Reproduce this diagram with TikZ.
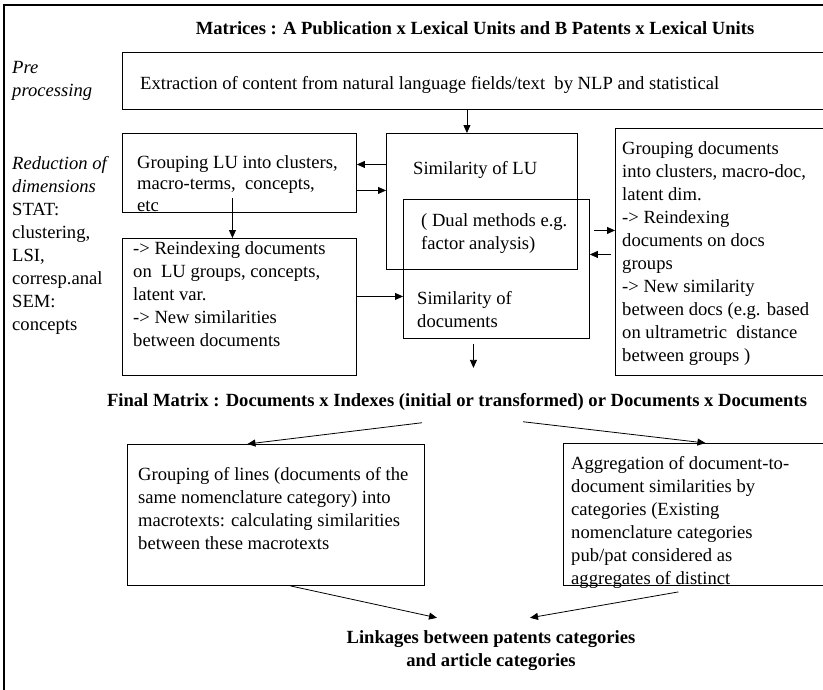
\documentclass[tikz,border=0pt]{standalone}
\usepackage{fontspec}
\setmainfont{Liberation Serif}
\usetikzlibrary{positioning, arrows.meta, calc}
\tikzset{
  box/.style={draw, line width=0.9pt, anchor=north west, inner sep=0pt},
  txt/.style={anchor=north west, inner sep=0pt, align=left, font=\fontsize{18.6}{23}\selectfont},
  ttl/.style={inner sep=0pt, align=center, font=\fontsize{18.6}{23}\selectfont\bfseries},
  arr/.style={-{Triangle[length=8pt,width=7pt]}, line width=0.8pt}
}

\begin{document}
\begin{tikzpicture}[x=1pt, y=-1pt]
\useasboundingbox (0,0) rectangle (823,689);
\draw[line width=1.6pt] (4,720) -- (4,5) -- (860,5);

% boxes
\node[box, minimum width=760pt, minimum height=57pt] (prep) at (122,52) {};
\node[box, minimum width=234pt, minimum height=79pt] (grpLU) at (122,133) {};
\node[box, minimum width=234pt, minimum height=137pt] (reidx) at (122,238) {};
\node[box, minimum width=191pt, minimum height=136pt] (simLU) at (386,133) {};
\node[box, minimum width=186pt, minimum height=139pt] (simDoc) at (403,199) {};
\node[box, minimum width=265pt, minimum height=247pt] (grpDoc) at (615,128) {};
\node[box, minimum width=297pt, minimum height=141pt] (grpLines) at (127,444) {};
\node[box, minimum width=317pt, minimum height=142pt] (aggr) at (563,443) {};

% texts
\node[ttl] (title) at (475,28) {Matrices : A Publication x Lexical Units and B Patents x Lexical Units};
\node[txt, font=\fontsize{18.6}{23}\selectfont\itshape] (preLbl) at (12,61) {Pre\\processing};
\node[txt] (redLbl) at (12,156) {\textit{Reduction of}\\\textit{dimensions}\\STAT:\\clustering,\\LSI,\\corresp.anal\\SEM:\\concepts};
\node[txt] (prepTxt) at (140,76) {Extraction of content from natural language fields/text\ \ by NLP and statistical};
\node[txt, font=\fontsize{18.6}{21.5}\selectfont] (grpLUTxt) at (137,155) {Grouping LU into clusters,\\macro-terms,\ \ concepts,\\etc};
\node[txt] (reidxTxt) at (133,241) {-> Reindexing documents\\on\ \ LU groups, concepts,\\latent var.\\-> New similarities\\between documents};
\node[txt] (simLUTxt) at (413,161) {Similarity of LU};
\node[txt] (dualTxt) at (421,213) {( Dual methods e.g.\\factor analysis)};
\node[txt] (simDocTxt) at (417,291) {Similarity of\\documents};
\node[txt] (grpDocTxt) at (622,141) {Grouping documents\\into clusters, macro-doc,\\latent dim.\\-> Reindexing\\documents on docs\\groups\\-> New similarity\\between docs (e.g. based\\on ultrametric\ \ distance\\between groups )};
\node[ttl] (final) at (457,402) {Final Matrix : Documents x Indexes (initial or transformed) or Documents x Documents};
\node[txt] (grpLinesTxt) at (138,467) {Grouping of lines (documents of the\\same nomenclature category) into\\macrotexts: calculating similarities\\between these macrotexts};
\node[txt] (aggrTxt) at (571,456) {Aggregation of document-to-\\document similarities by\\categories (Existing\\nomenclature categories\\pub/pat considered as\\aggregates of distinct};
\node[ttl] (link) at (491,651) {Linkages between patents categories\\and article categories};

% arrows
\draw[arr] ([xshift=-15pt]simLU.north |- prep.south) -- ([xshift=-15pt]simLU.north);
\draw[arr] ([yshift=8.5pt]grpLU.east -| simLU.west) -- ([yshift=8.5pt]grpLU.east);
\draw[arr] ([yshift=-17.5pt]grpLU.east) -- ([yshift=-17.5pt]grpLU.east -| simLU.west);
\draw[arr] ([xshift=-7pt,yshift=15pt]grpLU.south) -- ([xshift=-7pt]reidx.north);
\draw[arr] ([yshift=10.5pt]reidx.east) -- ([yshift=10.5pt]reidx.east -| simDoc.west);
\draw[arr] ([yshift=21.5pt,xshift=4pt]grpDoc.west -| simDoc.east) -- ([yshift=21.5pt]grpDoc.west);
\draw[arr] ([yshift=-2.5pt,xshift=-4pt]grpDoc.west) -- ([yshift=-2.5pt]grpDoc.west -| simDoc.east);
\draw[arr] ([xshift=-23pt,yshift=-5pt]simDoc.south) -- ([xshift=-23pt,yshift=-29pt]simDoc.south);
\draw[arr] ([xshift=-35pt,yshift=-12pt]final.south) -- ([xshift=-28.5pt]grpLines.north);
\draw[arr] ([xshift=66pt,yshift=-11pt]final.south) -- ([xshift=-16.5pt]aggr.north);
\draw[arr] ([xshift=14.5pt]grpLines.south) -- ([xshift=-54pt,yshift=13pt]link.north);
\draw[arr] ([xshift=-43.5pt,yshift=-6pt]aggr.south) -- ([xshift=39pt,yshift=13pt]link.north);
\end{tikzpicture}
\end{document}
